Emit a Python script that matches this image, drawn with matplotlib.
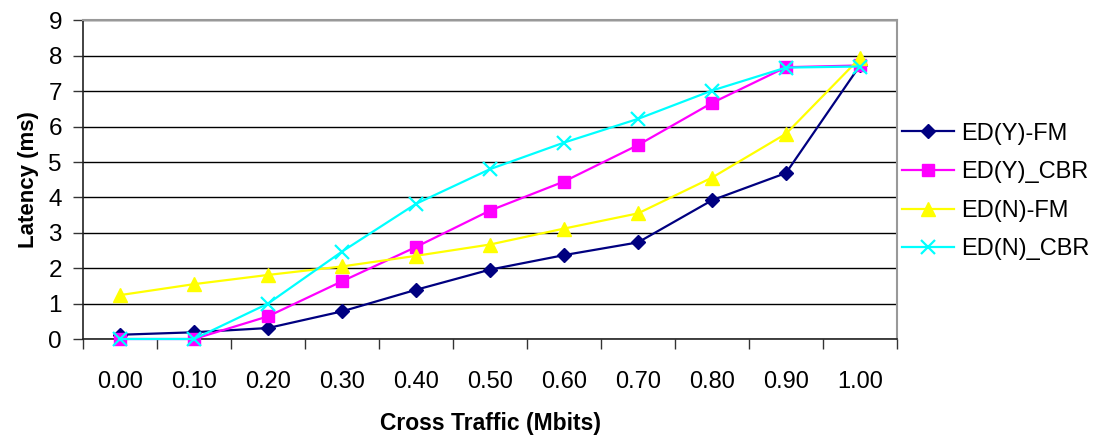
import matplotlib
matplotlib.use("Agg")
import matplotlib.pyplot as plt
import numpy as np

plt.rcParams['font.family'] = ['Liberation Sans', 'DejaVu Sans']

categories = ["0.00", "0.10", "0.20", "0.30", "0.40", "0.50", "0.60", "0.70", "0.80", "0.90", "1.00"]
ed_y_fm = [0.12, 0.19, 0.31, 0.78, 1.39, 1.96, 2.37, 2.73, 3.92, 4.69, 7.73]
ed_y_cbr = [0.0, 0.0, 0.64, 1.63, 2.60, 3.63, 4.45, 5.48, 6.67, 7.68, 7.73]
ed_n_fm = [1.24, 1.55, 1.81, 2.05, 2.35, 2.67, 3.12, 3.55, 4.56, 5.80, 7.94]
ed_n_cbr = [0.0, 0.0, 1.00, 2.47, 3.82, 4.80, 5.55, 6.22, 7.02, 7.67, 7.70]
series_names = ["ED(Y)-FM", "ED(Y)_CBR", "ED(N)-FM", "ED(N)_CBR"]
y_ticks = [0, 1, 2, 3, 4, 5, 6, 7, 8, 9]

fig = plt.figure(figsize=(10.97, 4.36), dpi=100)
ax = fig.add_axes([83/1097, 97/436, (897-83)/1097, (339-20.5)/436])

x = np.arange(len(categories))
styles = [
    dict(color="#000080", marker="D", markersize=7.5),
    dict(color="#FF00FF", marker="s", markersize=8.5),
    dict(color="#FFFF00", marker="^", markersize=10.5),
    dict(color="#00FFFF", marker="x", markersize=10.5, markeredgewidth=1.6),
]
for vals, name, st in zip([ed_y_fm, ed_y_cbr, ed_n_fm, ed_n_cbr], series_names, styles):
    ax.plot(x, vals, linewidth=1.6, label=name, clip_on=False, zorder=3, **st)

ax.set_xlim(-0.5, len(categories) - 0.5)
ax.set_ylim(0, 9)
ax.set_yticks(y_ticks)
ax.set_yticklabels([str(t) for t in y_ticks])
ax.yaxis.grid(True, color="black", linewidth=1.0)
ax.set_axisbelow(True)

ax.set_xticks(np.arange(-0.5, len(categories), 1.0))
ax.set_xticklabels([])
ax.set_xticks(x, minor=True)
ax.set_xticklabels(categories, minor=True)
ax.tick_params(axis='x', which='major', direction='out', length=7.2, width=1, color="#333333")
ax.tick_params(axis='x', which='minor', length=0, pad=23, labelsize=17)
ax.tick_params(axis='y', direction='out', length=7.2, width=1, pad=8, labelsize=17.5, color="#333333")

for s in ['top', 'right']:
    ax.spines[s].set_color("#999999")
    ax.spines[s].set_linewidth(1.5)
for s in ['left', 'bottom']:
    ax.spines[s].set_color("#222222")
    ax.spines[s].set_linewidth(1.2)

ax.set_xlabel("Cross Traffic (Mbits)", fontsize=16.5, fontweight='bold', labelpad=14)
ax.set_ylabel("Latency (ms)", fontsize=16, fontweight='bold', labelpad=7)

fig.legend(loc='center left', bbox_to_anchor=(902/1097, 1 - 191.5/436), frameon=False,
           fontsize=17, handlelength=2.2, handletextpad=0.3, labelspacing=0.7,
           borderaxespad=0, borderpad=0)

fig.savefig("out.png", dpi=100)
